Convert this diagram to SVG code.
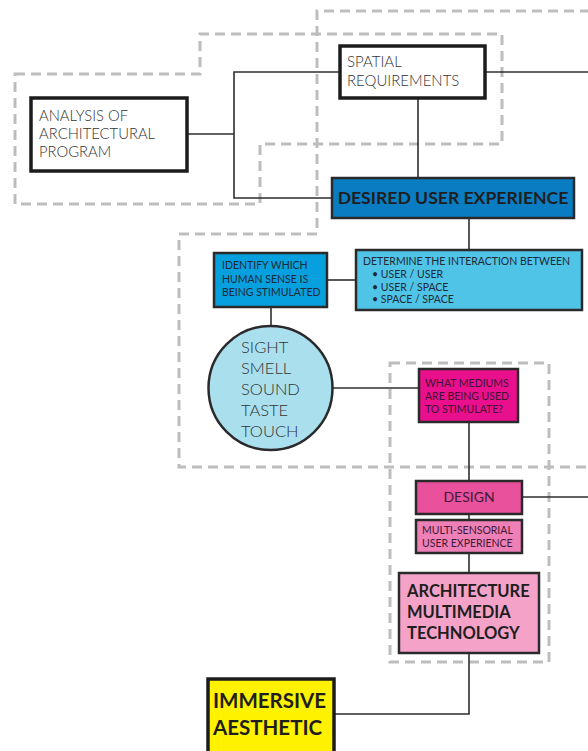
<svg xmlns="http://www.w3.org/2000/svg" width="588" height="751" viewBox="0 0 588 751">
<style>
.dash{fill:none;stroke:#bdbdc0;stroke-width:3;stroke-dasharray:10 6}
.con{fill:none;stroke:#2e2e2e;stroke-width:1.6}
.thick{stroke:#1c1c1c;stroke-width:3.5}
.box{stroke:#2a2a2a;stroke-width:2.5}
.lt{font-family:Lato,"Liberation Sans",sans-serif;font-weight:300;fill:#333333}
.sm{font-family:Lato,"Liberation Sans",sans-serif;font-weight:400;font-size:10.5px;fill:#1f2a35}
.bd{font-family:Lato,"Liberation Sans",sans-serif;font-weight:700;fill:#1e1e1e}
</style>
<rect width="588" height="751" fill="#ffffff"/>
<g id="regions">
<polygon class="dash" points="15,74 200,74 200,34 502,34 502,144 260,144 260,204 15,204"/>
<polyline class="dash" points="590,11 317,11 317,234 179,234 179,467 590,467"/>
<rect class="dash" x="390" y="363" width="159" height="299"/>
</g>
<g id="connectors">
<line class="con" x1="188" y1="134" x2="234" y2="134"/>
<polyline class="con" points="341,72 234,72 234,198 332,198"/>
<line class="con" x1="486" y1="72" x2="588" y2="72"/>
<line class="con" x1="418" y1="99" x2="418" y2="178"/>
<line class="con" x1="469" y1="218" x2="469" y2="250"/>
<line class="con" x1="327" y1="280" x2="356" y2="280"/>
<line class="con" x1="271" y1="307" x2="271" y2="326"/>
<line class="con" x1="333" y1="388" x2="419" y2="388"/>
<line class="con" x1="469" y1="422" x2="469" y2="481"/>
<line class="con" x1="522" y1="497" x2="588" y2="497"/>
<line class="con" x1="469" y1="514" x2="469" y2="520"/>
<line class="con" x1="469" y1="553" x2="469" y2="573"/>
<polyline class="con" points="469,653 469,714 335,714"/>
</g>
<g id="analysis">
<rect class="thick" x="31" y="98" width="156" height="73" fill="#ffffff"/>
<text class="lt" font-size="14.8" x="39"><tspan x="39" y="121">ANALYSIS OF</tspan><tspan x="39" y="139">ARCHITECTURAL</tspan><tspan x="39" y="157">PROGRAM</tspan></text>
</g>
<g id="spatial">
<rect class="thick" x="340" y="46" width="145" height="52" fill="#ffffff"/>
<text class="lt" font-size="15"><tspan x="347" y="67">SPATIAL</tspan><tspan x="347" y="86">REQUIREMENTS</tspan></text>
</g>
<g id="desired">
<rect class="box" x="332" y="178" width="242" height="40" fill="#0a7cc2"/>
<text class="bd" font-size="17.6" x="453" y="204" text-anchor="middle">DESIRED USER EXPERIENCE</text>
</g>
<g id="determine">
<rect class="box" x="356" y="250" width="226" height="60" fill="#4fc4e7"/>
<text class="sm" font-size="10.5"><tspan x="363" y="265">DETERMINE THE INTERACTION BETWEEN</tspan><tspan x="372" y="278">•  USER / USER</tspan><tspan x="372" y="291">•  USER / SPACE</tspan><tspan x="372" y="303">•  SPACE / SPACE</tspan></text>
</g>
<g id="identify">
<rect class="box" x="214" y="253" width="113" height="54" fill="#06a0df"/>
<text class="sm"><tspan x="222" y="269">IDENTIFY WHICH</tspan><tspan x="222" y="283">HUMAN SENSE IS</tspan><tspan x="222" y="296">BEING STIMULATED</tspan></text>
</g>
<g id="senses">
<circle cx="270.5" cy="388" r="62" fill="#aadfee" stroke="#2a2a2a" stroke-width="2.5"/>
<text class="lt" font-size="16.5"><tspan x="241" y="353">SIGHT</tspan><tspan x="241" y="374">SMELL</tspan><tspan x="241" y="395">SOUND</tspan><tspan x="241" y="416">TASTE</tspan><tspan x="241" y="437">TOUCH</tspan></text>
</g>
<g id="mediums">
<rect class="box" x="419" y="369" width="99" height="53" fill="#ea0f8c"/>
<text class="sm" style="fill:#3e1432"><tspan x="425" y="387">WHAT MEDIUMS</tspan><tspan x="425" y="400">ARE BEING USED</tspan><tspan x="425" y="413">TO STIMULATE?</tspan></text>
</g>
<g id="design">
<rect class="box" x="416" y="481" width="106" height="33" fill="#e9519c"/>
<text class="lt" font-size="14" x="469" y="502" text-anchor="middle" style="fill:#3e1a34;font-weight:400">DESIGN</text>
</g>
<g id="multisensorial">
<rect class="box" x="416" y="520" width="106" height="33" fill="#ee7fb7"/>
<text class="sm" style="fill:#3e1a34"><tspan x="422" y="534">MULTI-SENSORIAL</tspan><tspan x="422" y="547">USER EXPERIENCE</tspan></text>
</g>
<g id="technology">
<rect class="box" x="399" y="573" width="140" height="80" fill="#f4a2c8"/>
<text class="bd" font-size="16.5"><tspan x="407" y="597">ARCHITECTURE</tspan><tspan x="407" y="618">MULTIMEDIA</tspan><tspan x="407" y="639">TECHNOLOGY</tspan></text>
</g>
<g id="immersive">
<rect class="thick" x="208" y="679" width="126" height="76" fill="#fff200"/>
<text class="bd" font-size="20.5"><tspan x="213" y="708">IMMERSIVE</tspan><tspan x="213" y="735">AESTHETIC</tspan></text>
</g>
</svg>
